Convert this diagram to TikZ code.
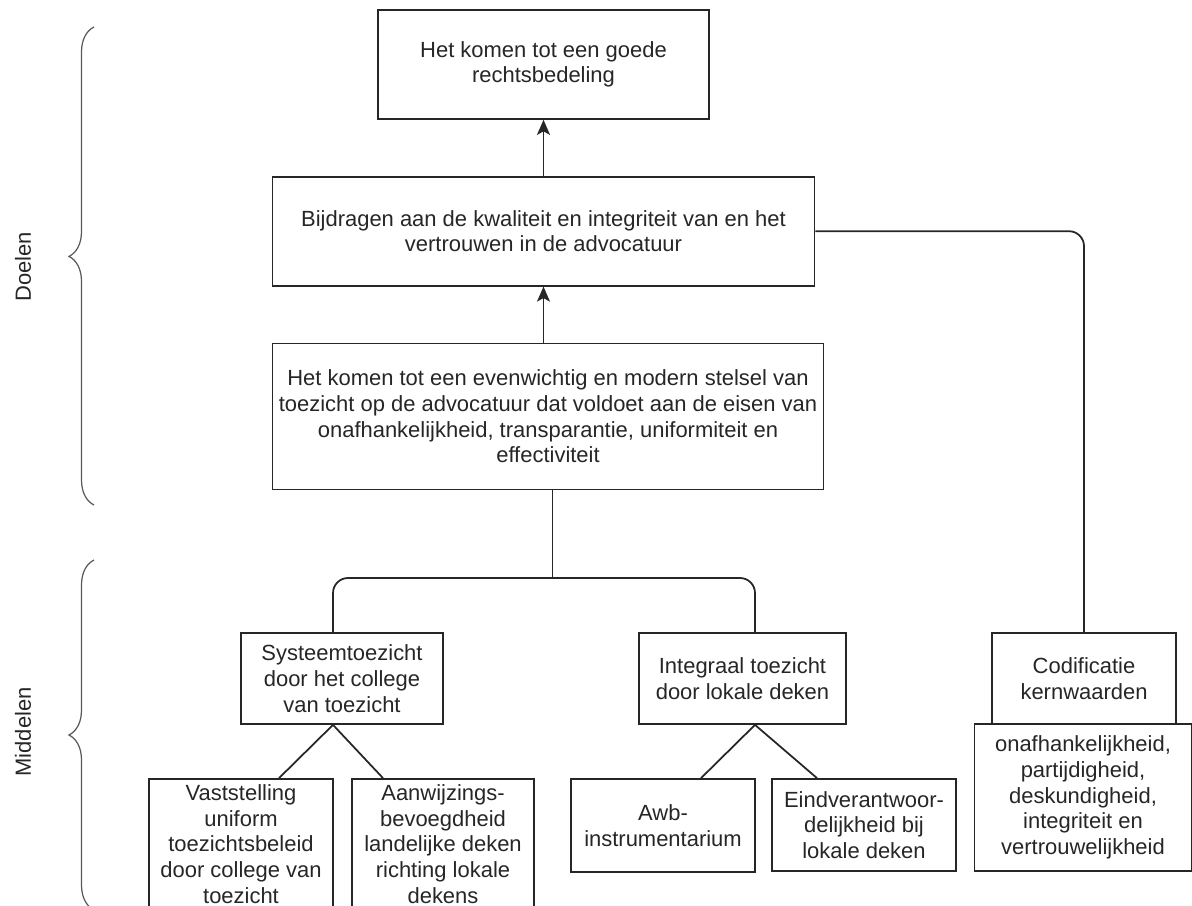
\documentclass[tikz,border=0pt]{standalone}
\usepackage{fontspec}
\setmainfont{Liberation Sans}
\usetikzlibrary{positioning,arrows.meta,decorations.pathreplacing}
\tikzstyle{GoalNode}=[rectangle, draw=black!85, line width=1pt, text=black!85, align=center, inner sep=0pt, minimum height=2.18cm]
\tikzstyle{MeansNode}=[rectangle, draw=black!85, line width=1pt, text=black!85, align=center, inner sep=0pt, minimum width=3.68cm, minimum height=1.82cm]
\tikzstyle{Link}=[draw=black!85, line width=1pt]
\tikzstyle{UpLink}=[Link, -{Stealth[length=0.3cm, width=0.26cm, inset=0.07cm]}]
\tikzstyle{Brace}=[draw=black!65, line width=0.7pt, decorate, decoration={brace, amplitude=0.5cm}]
\tikzstyle{SideLabel}=[rotate=90, text=black!85]

\begin{document}
\begin{tikzpicture}[x=0.02cm, y=-0.02cm, node distance=1.12cm, font=\fontsize{12.5}{14.6}\selectfont]
    \useasboundingbox (0,0) rectangle (1192,905);
    \clip (0,0) rectangle (1192,905);

    % goals
    \node (doel) [GoalNode, minimum width=6.62cm] at (543.5,64.5) {Het komen tot een goede\\rechtsbedeling};
    \node (bijdrage) [GoalNode, minimum width=10.84cm, below=of doel] {Bijdragen aan de kwaliteit en integriteit van en het\\vertrouwen in de advocatuur};
    \node (stelsel) [GoalNode, minimum width=11.02cm, minimum height=2.92cm, below=of bijdrage, xshift=0.09cm] {Het komen tot een evenwichtig en modern stelsel van\\toezicht op de advocatuur dat voldoet aan de eisen van\\onafhankelijkheid, transparantie, uniformiteit en\\effectiviteit};

    % means
    \node (systeem) [MeansNode, minimum width=4.04cm] at (342,678.5) {Systeemtoezicht\\door het college\\van toezicht};
    \node (integraal) [MeansNode, minimum width=4.14cm] at (742.5,678.5) {Integraal toezicht\\door lokale deken};
    \node (codificatie) [MeansNode] at (1084,678.5) {Codificatie\\kernwaarden};
    \node (vaststelling) [MeansNode, minimum height=2.6cm] at (241,844) {Vaststelling\\uniform\\toezichtsbeleid\\door college van\\toezicht};
    \node (aanwijzing) [MeansNode, minimum width=3.64cm, minimum height=2.6cm] at (443,844) {Aanwijzings-\\bevoegdheid\\landelijke deken\\richting lokale\\dekens};
    \node (awb) [MeansNode, minimum height=1.86cm] at (663,825.5) {Awb-\\instrumentarium};
    \node (eindverantw) [MeansNode, minimum height=1.84cm] at (864,825) {Eindverantwoor-\\delijkheid bij\\lokale deken};
    \node (kernwaarden) [MeansNode, minimum width=4.34cm, minimum height=2.94cm] at (1083,797.5) {onafhankelijkheid,\\partijdigheid,\\deskundigheid,\\integriteit en\\vertrouwelijkheid};

    % braces
    \draw [Brace, decoration={aspect=0.52}] (94,505) -- (94,27);
    \draw [Brace, decoration={aspect=0.5}] (94,910) -- (94,560);
    \node (doelen) [SideLabel] at (23,267) {Doelen};
    \node (middelen) [SideLabel] at (23,732) {Middelen};

    \coordinate (forktop) at ([xshift=0.09cm]stelsel.south);
    \coordinate (fork) at (forktop |- 0,578);

    \draw [UpLink] (bijdrage.north) -- (doel.south);
    \draw [UpLink] (bijdrage.south |- stelsel.north) -- (bijdrage.south);
    \draw [Link] (forktop) -- (fork);
    \draw [Link, rounded corners=0.3cm] ([xshift=-0.18cm]systeem.north) |- (fork) -| ([xshift=0.25cm]integraal.north);
    \draw [Link, rounded corners=0.3cm] (bijdrage.east) -| (codificatie.north);
    \draw [Link] ([xshift=-0.18cm]systeem.south) -- ([xshift=0.76cm]vaststelling.north);
    \draw [Link] ([xshift=-0.18cm]systeem.south) -- ([xshift=-1.2cm]aanwijzing.north);
    \draw [Link] ([xshift=0.25cm]integraal.south) -- ([xshift=0.76cm]awb.north);
    \draw [Link] ([xshift=0.25cm]integraal.south) -- ([xshift=-0.94cm]eindverantw.north);
\end{tikzpicture}
\end{document}
